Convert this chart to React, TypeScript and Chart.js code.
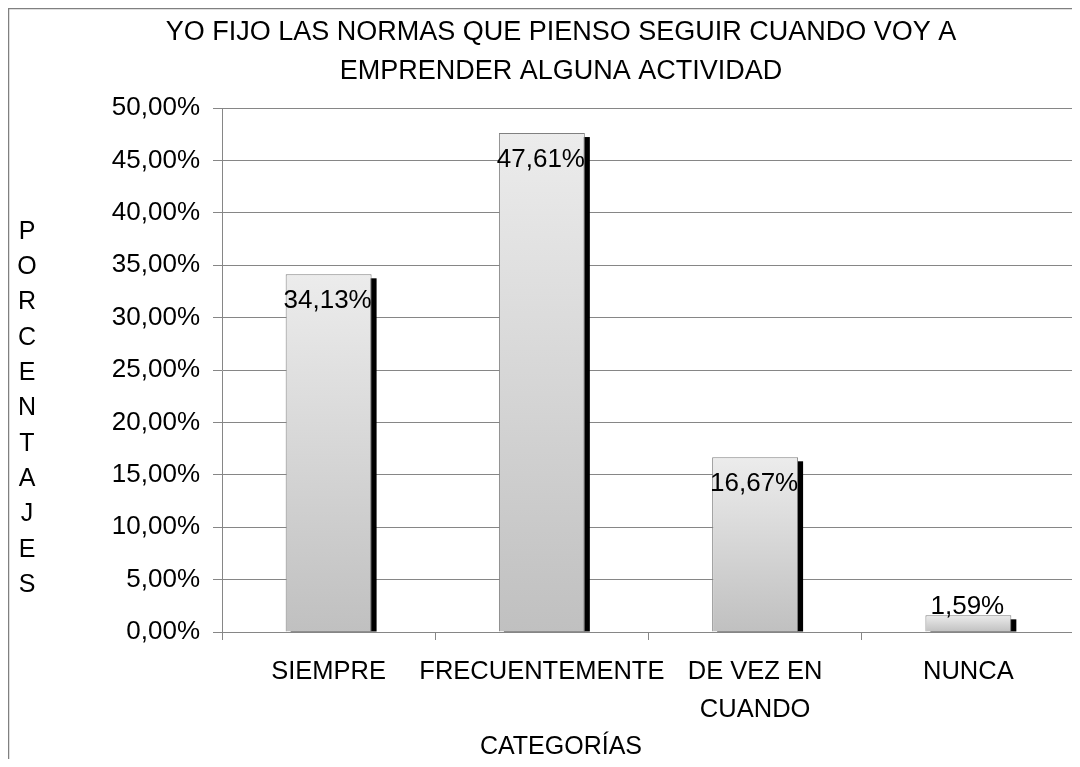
import React, { useEffect, useRef } from "react";
import { Chart, registerables } from "chart.js";

Chart.register(...registerables);

const titleLines = ["YO FIJO LAS NORMAS QUE PIENSO SEGUIR CUANDO VOY A", "EMPRENDER ALGUNA ACTIVIDAD"];
const categories: (string | string[])[] = ["SIEMPRE", "FRECUENTEMENTE", ["DE VEZ EN", "CUANDO"], "NUNCA"];
const values = [34.13, 47.61, 16.67, 1.59];
const yTitleLetters = ["P", "O", "R", "C", "E", "N", "T", "A", "J", "E", "S"];
const xTitle = "CATEGORÍAS";
const yMin = 0;
const yMax = 50;
const yStep = 5;

const FONT = "'Liberation Sans', Arial, sans-serif";
const fmt = (v: number) => v.toFixed(2).replace(".", ",") + "%";

const W = 1106;
const H = 800;

export default function App() {
  const ref = useRef<HTMLCanvasElement | null>(null);
  useEffect(() => {
    if (!ref.current) return;
    const decor = {
      id: "decor",
      beforeDraw(chart: any) {
        const c = chart.ctx;
        c.save();
        c.fillStyle = "#fff";
        c.fillRect(0, 0, W, H);
        c.strokeStyle = "#808080";
        c.lineWidth = 1.5;
        c.strokeRect(0.5, 0.5, W - 1, H - 1);
        c.fillStyle = "#000";
        c.textAlign = "center";
        c.textBaseline = "middle";
        c.font = `27px ${FONT}`;
        c.fillText(titleLines[0], W / 2, 24.5);
        c.fillText(titleLines[1], W / 2, 64);
        c.font = `25px ${FONT}`;
        c.fillText(xTitle, W / 2, 739);
        yTitleLetters.forEach((l, i) => c.fillText(l, 19, 224 + i * 35.3));
        c.restore();
      },
      beforeDatasetsDraw(chart: any) {
        const c = chart.ctx;
        const meta = chart.getDatasetMeta(0);
        c.save();
        c.fillStyle = "#000";
        meta.data.forEach((bar: any) => {
          const w = bar.width;
          const left = bar.x - w / 2 + 5;
          const top = bar.y + 4;
          const h = bar.base - top;
          if (h > 0) c.fillRect(left, top, w, h);
        });
        c.restore();
      },
      afterDatasetsDraw(chart: any) {
        const c = chart.ctx;
        const meta = chart.getDatasetMeta(0);
        c.save();
        c.fillStyle = "#000";
        c.font = `26px ${FONT}`;
        c.textAlign = "center";
        c.textBaseline = "middle";
        meta.data.forEach((bar: any, i: number) => {
          const h = bar.base - bar.y;
          const y = h > 40 ? bar.y + 27 : bar.y - 9;
          c.fillText(fmt(values[i]), bar.x - 1, y);
        });
        c.restore();
      },
    };

    const chart = new Chart(ref.current, {
      type: "bar",
      data: {
        labels: categories as any,
        datasets: [
          {
            data: values,
            backgroundColor: (ctx: any) => {
              const ch = ctx.chart;
              const ys = ch.scales?.y;
              if (!ch.chartArea || !ys || ctx.raw == null) return "#dcdcdc";
              const top = ys.getPixelForValue(ctx.raw);
              const bot = ys.getPixelForValue(0);
              if (!isFinite(top) || !isFinite(bot) || bot - top < 1) return "#dcdcdc";
              const g = ch.ctx.createLinearGradient(0, top, 0, bot);
              g.addColorStop(0, "#ececec");
              g.addColorStop(1, "#c0c0c0");
              return g;
            },
            borderColor: "#808080",
            borderWidth: 1,
            barPercentage: 0.403,
            categoryPercentage: 1,
          },
        ],
      },
      options: {
        responsive: false,
        animation: false,
        devicePixelRatio: 1,
        layout: { padding: { left: 0, top: 100, right: 39, bottom: 0 } },
        plugins: {
          legend: { display: false },
          title: { display: false },
          tooltip: { enabled: false },
        },
        scales: {
          x: {
            offset: true,
            grid: {
              offset: true,
              drawOnChartArea: false,
              drawTicks: true,
              tickLength: 8,
              color: "#868686",
            },
            border: { display: true, color: "#868686" },
            ticks: {
              color: "#000",
              font: { family: FONT, size: 25.5, lineHeight: 1.5 },
              padding: 13,
              maxRotation: 0,
              minRotation: 0,
              autoSkip: false,
            },
            afterFit: (s: any) => {
              s.height = 176;
            },
          },
          y: {
            min: yMin,
            max: yMax,
            ticks: {
              stepSize: yStep,
              color: "#000",
              font: { family: FONT, size: 26 },
              padding: 13,
              callback: (v: any) => fmt(Number(v)),
            },
            grid: { color: "#868686", tickLength: 9, drawTicks: true },
            border: { display: true, color: "#868686" },
            afterFit: (s: any) => {
              s.width = 214;
            },
          },
        },
      },
      plugins: [decor],
    });
    return () => chart.destroy();
  }, []);

  return (
    <div style={{ width: 1072, height: 751, overflow: "hidden", position: "relative" }}>
      <canvas ref={ref} width={W} height={H} style={{ display: "block", width: W, height: H }} />
    </div>
  );
}
